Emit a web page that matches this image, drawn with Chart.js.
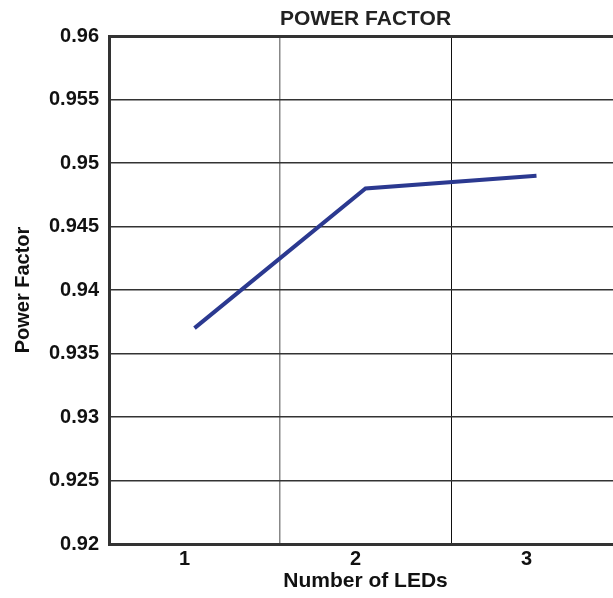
<!DOCTYPE html>
<html><head><meta charset="utf-8">
<script src="https://cdn.jsdelivr.net/npm/chart.js@4/dist/chart.umd.min.js"></script>
<style>html,body{margin:0;padding:0;overflow:hidden;background:#fff}#wrap{width:622px;height:598px;position:relative}</style>
</head><body><div id="wrap"><canvas id="c"></canvas></div>
<script>
const categories = ['1', '2', '3'];
const powerFactor = [0.937, 0.948, 0.949];
const yTicks = [0.92, 0.925, 0.93, 0.935, 0.94, 0.945, 0.95, 0.955, 0.96];
const FONT = '"Liberation Sans", Arial, sans-serif';

new Chart(document.getElementById('c'), {
  type: 'line',
  data: { labels: categories, datasets: [{ data: powerFactor, borderColor: '#2b3990', borderWidth: 4, pointRadius: 0, tension: 0, fill: false }] },
  options: {
    responsive: true, maintainAspectRatio: false, animation: false,
    layout: { padding: { left: 0, right: 0, top: 0, bottom: 0 } },
    plugins: { legend: { display: false }, tooltip: { enabled: false }, title: { display: false } },
    scales: {
      x: {
        offset: true,
        grid: { offset: true, drawTicks: false, color: c => c.index === 1 ? '#888' : '#111', lineWidth: c => c.index === 1 ? 1.5 : 1 },
        border: { color: '#333', width: 3 },
        ticks: { color: '#111', padding: 3, labelOffset: -10, font: { family: FONT, size: 20, weight: 'bold' } },
        title: { display: true, text: 'Number of LEDs', color: '#111', padding: { top: 0, bottom: 4 }, font: { family: FONT, size: 21, weight: 'bold' } },
        afterFit: s => { s.height = 54; }
      },
      xTop: {
        type: 'category', position: 'top', offset: true,
        grid: { display: false, drawTicks: false }, border: { display: false },
        ticks: { display: false },
        title: { display: true, text: 'POWER FACTOR', color: '#222', padding: { top: 7, bottom: 0 }, font: { family: FONT, size: 21, weight: 'bold' } },
        afterFit: s => { s.height = 36; }
      },
      y: {
        min: 0.92, max: 0.96,
        afterBuildTicks: s => { s.ticks = yTicks.map(v => ({ value: v })); },
        grid: { drawTicks: false, color: '#333', lineWidth: c => c.tick && c.tick.value === 0.96 ? 3 : 1.5 },
        border: { color: '#333', width: 3 },
        ticks: { color: '#111', padding: 10, font: { family: FONT, size: 20, weight: 'bold' }, callback: v => String(+v.toFixed(3)) },
        title: { display: true, text: 'Power Factor', color: '#111', padding: { top: 11, bottom: 0 }, font: { family: FONT, size: 20, weight: 'bold' } },
        afterFit: s => { s.width = 109; }
      }
    }
  }
});
</script></body></html>
